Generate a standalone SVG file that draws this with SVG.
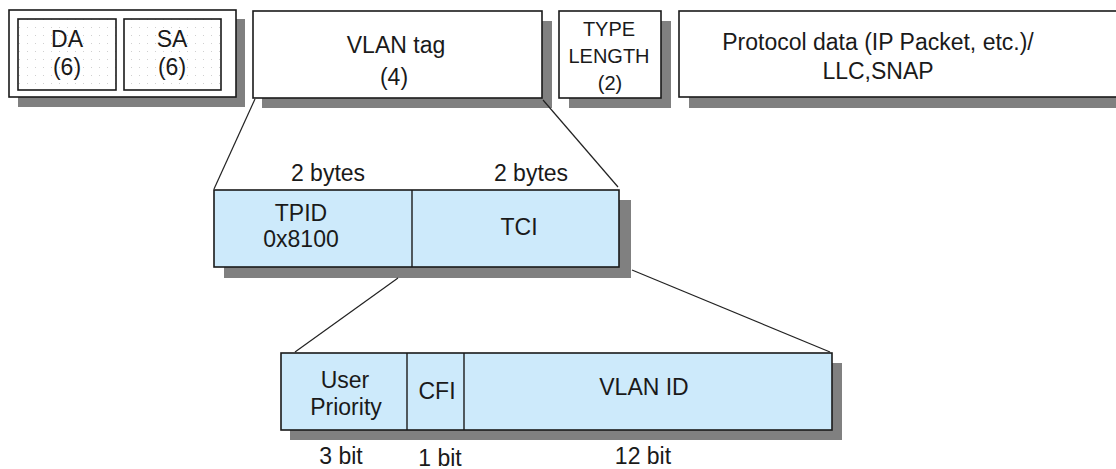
<svg xmlns="http://www.w3.org/2000/svg" width="1116" height="469" viewBox="0 0 1116 469">
  <defs>
    <pattern id="dots" width="8" height="8" patternUnits="userSpaceOnUse">
      <rect width="8" height="8" fill="#ffffff"/>
      <rect x="3" y="3" width="1" height="1" fill="#d0d0d0"/>
    </pattern>
  </defs>
  <style>
    .shadow { fill: #808080; stroke: none; }
    .box { fill: #ffffff; stroke: #1a1a1a; stroke-width: 1.6; }
    .dotbox { fill: url(#dots); stroke: #1a1a1a; stroke-width: 1.6; }
    .field { fill: #cdeafb; stroke: #1a1a1a; stroke-width: 1.6; }
    .div { stroke: #1a1a1a; stroke-width: 1.4; }
    .lbl { font-family: "Liberation Sans", Arial, sans-serif; font-size: 23px; fill: #1a1a1a; text-anchor: middle; }
    .sm { font-size: 20px; }
    .conn { stroke: #222222; stroke-width: 1.2; fill: none; }
  </style>
  <rect width="1116" height="469" fill="#ffffff"/>

  <!-- Ethernet frame: addresses -->
  <g id="addr">
    <rect class="shadow" x="18" y="19" width="227" height="88"/>
    <rect class="box" x="9" y="10" width="227" height="87"/>
    <g id="da">
      <rect class="dotbox" x="18" y="19" width="98" height="71"/>
      <text class="lbl" x="67" y="47">DA</text>
      <text class="lbl" x="67" y="75">(6)</text>
    </g>
    <g id="sa">
      <rect class="dotbox" x="124" y="19" width="97" height="71"/>
      <text class="lbl" x="172" y="47">SA</text>
      <text class="lbl" x="172" y="75">(6)</text>
    </g>
  </g>

  <g id="vlan-tag">
    <rect class="shadow" x="262" y="21" width="290" height="87"/>
    <rect class="box" x="253" y="11" width="289" height="87"/>
    <text class="lbl" x="396" y="53">VLAN tag</text>
    <text class="lbl" x="394" y="85">(4)</text>
  </g>

  <g id="type-length">
    <rect class="shadow" x="569" y="21" width="102" height="87"/>
    <rect class="box" x="559" y="11" width="102" height="87"/>
    <text class="lbl sm" x="609" y="36">TYPE</text>
    <text class="lbl sm" x="609" y="63">LENGTH</text>
    <text class="lbl sm" x="610" y="90">(2)</text>
  </g>

  <g id="payload">
    <rect class="shadow" x="689" y="21" width="440" height="87"/>
    <rect class="box" x="679" y="11" width="450" height="86"/>
    <text class="lbl" x="878" y="50">Protocol data (IP Packet, etc.)/</text>
    <text class="lbl" x="878" y="79">LLC,SNAP</text>
  </g>

  <!-- 802.1Q tag: TPID + TCI -->
  <g id="tag-fields">
    <text class="lbl" x="328" y="181">2 bytes</text>
    <text class="lbl" x="531" y="181">2 bytes</text>
    <rect class="shadow" x="224" y="200" width="407" height="78"/>
    <rect class="field" x="214" y="190" width="405" height="77"/>
    <line class="div" x1="412" y1="190" x2="412" y2="267"/>
    <g id="tpid">
      <text class="lbl" x="301" y="221">TPID</text>
      <text class="lbl" x="301" y="247">0x8100</text>
    </g>
    <g id="tci">
      <text class="lbl" x="519" y="235">TCI</text>
    </g>
  </g>

  <!-- TCI breakdown -->
  <g id="tci-fields">
    <rect class="shadow" x="290" y="363" width="552" height="77"/>
    <rect class="field" x="281" y="353" width="551" height="77"/>
    <line class="div" x1="407" y1="353" x2="407" y2="430"/>
    <line class="div" x1="464" y1="353" x2="464" y2="430"/>
    <g id="priority">
      <text class="lbl" x="345" y="388">User</text>
      <text class="lbl" x="346" y="415">Priority</text>
      <text class="lbl" x="341" y="464">3 bit</text>
    </g>
    <g id="cfi">
      <text class="lbl" x="440" y="466">1 bit</text>
      <text class="lbl" x="437" y="399">CFI</text>
    </g>
    <g id="vid">
      <text class="lbl" x="644" y="395">VLAN ID</text>
      <text class="lbl" x="643" y="464">12 bit</text>
    </g>
  </g>

  <g id="connectors">
    <line class="conn" x1="255" y1="99" x2="214" y2="189"/>
    <line class="conn" x1="543" y1="100" x2="618" y2="187"/>
    <line class="conn" x1="398" y1="278" x2="295" y2="352"/>
    <line class="conn" x1="632" y1="270" x2="830" y2="352"/>
  </g>
</svg>
